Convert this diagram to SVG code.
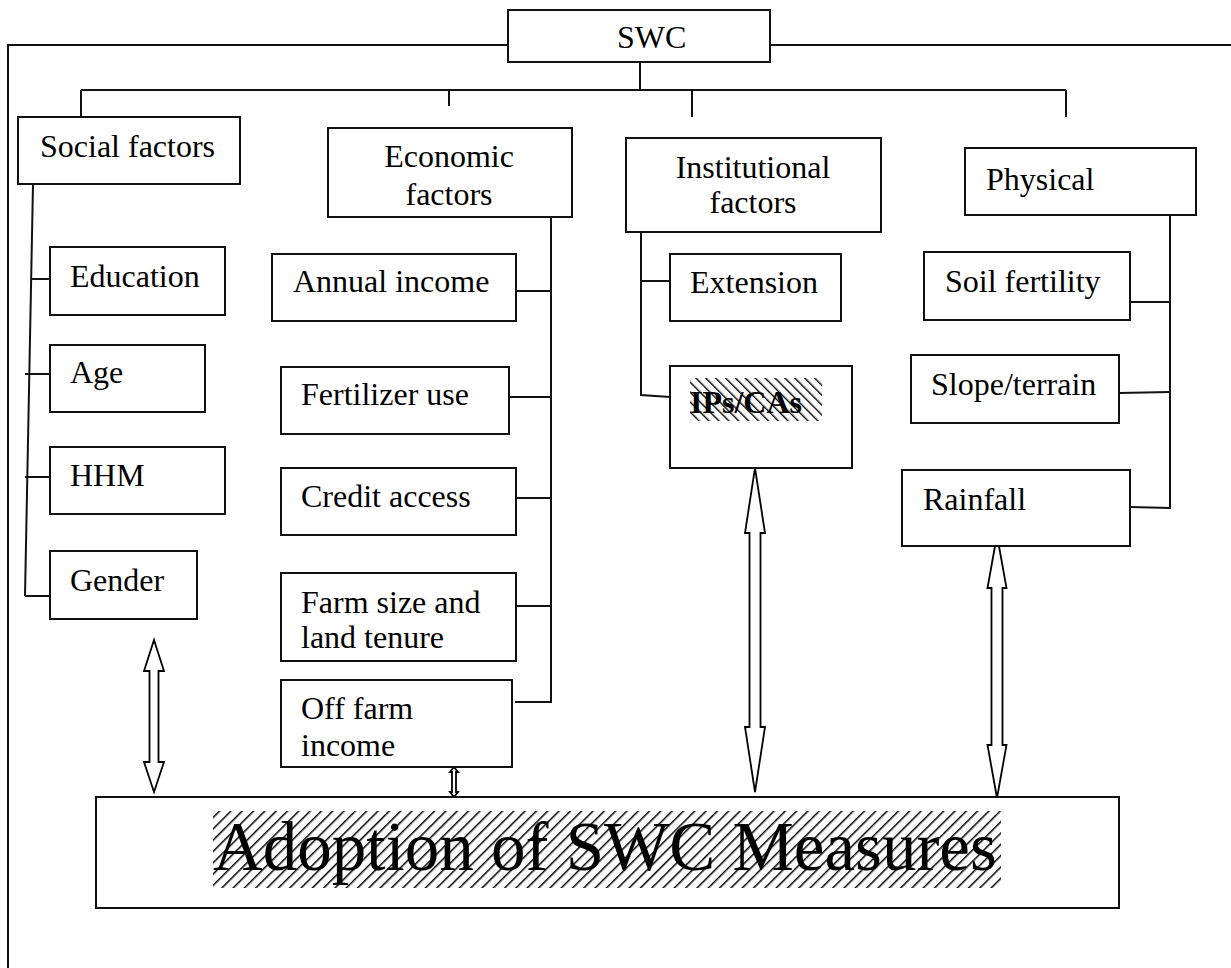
<svg xmlns="http://www.w3.org/2000/svg" width="1231" height="968" viewBox="0 0 1231 968">
<style>
.box{fill:#fff;stroke:#111;stroke-width:2}
.ln{fill:none;stroke:#111;stroke-width:2}
.t{font-family:"Liberation Serif","Times New Roman",serif;font-size:32px;fill:#000}
.big{font-family:"Liberation Serif","Times New Roman",serif;font-size:69px;fill:#000}
.arr{fill:#fff;stroke:#000;stroke-width:1.8;stroke-linejoin:miter}
</style>
<defs>
<pattern id="hatchF" width="8" height="8" patternUnits="userSpaceOnUse" patternTransform="rotate(45)">
<line x1="0" y1="0" x2="0" y2="8" stroke="#000" stroke-width="3"/>
</pattern>
<pattern id="hatchB" width="7" height="7" patternUnits="userSpaceOnUse" patternTransform="rotate(-45)">
<line x1="0" y1="0" x2="0" y2="7" stroke="#000" stroke-width="2.8"/>
</pattern>
</defs>
<rect width="1231" height="968" fill="#fff"/>
<g id="connectors">
<polyline class="ln" points="508,45 8,45 8,968"/>
<line class="ln" x1="770" y1="45" x2="1231" y2="45"/>
<line class="ln" x1="640" y1="62" x2="640" y2="90"/>
<line class="ln" x1="81" y1="90" x2="1066" y2="90"/>
<line class="ln" x1="81" y1="90" x2="81" y2="117"/>
<line class="ln" x1="449" y1="90" x2="449" y2="106"/>
<line class="ln" x1="692" y1="90" x2="692" y2="117"/>
<line class="ln" x1="1066" y1="90" x2="1066" y2="117"/>
<line class="ln" x1="33" y1="184" x2="25" y2="596"/>
<line class="ln" x1="32" y1="279" x2="50" y2="279"/>
<line class="ln" x1="25" y1="374" x2="50" y2="374"/>
<line class="ln" x1="25" y1="477" x2="50" y2="477"/>
<line class="ln" x1="25" y1="596" x2="50" y2="596"/>
<polyline class="ln" points="551,217 551,702 515,702"/>
<line class="ln" x1="516" y1="291" x2="551" y2="291"/>
<line class="ln" x1="509" y1="397" x2="552" y2="397"/>
<line class="ln" x1="516" y1="498" x2="551" y2="498"/>
<line class="ln" x1="516" y1="606" x2="551" y2="606"/>
<polyline class="ln" points="641,233 641,395 670,397"/>
<line class="ln" x1="641" y1="281" x2="670" y2="281"/>
<polyline class="ln" points="1170,215 1170,508 1130,507"/>
<line class="ln" x1="1130" y1="302" x2="1170" y2="302"/>
<line class="ln" x1="1119" y1="393" x2="1170" y2="392"/>
<polygon class="arr" points="154,640 164,671 158.5,671 158.5,762 164,762 154,792 144,762 149.5,762 149.5,671 144,671"/>
<polygon class="arr" points="454,767 458,772 456,772 456,792 458,792 454,797 450,792 452,792 452,772 450,772"/>
<polygon class="arr" points="755,468 765,533 760.5,533 760.5,727 765,727 755,792 745,727 749.5,727 749.5,533 745,533"/>
<polygon class="arr" points="997,535 1006.5,588 1002.5,588 1002.5,745 1006.5,745 997,798 987.5,745 991.5,745 991.5,588 987.5,588"/>
</g>
<g id="swc"><rect class="box" x="508" y="10" width="262" height="52"/><text class="t" x="617" y="48">SWC</text></g>
<g id="social"><rect class="box" x="18" y="117" width="222" height="67"/><text class="t" x="40" y="157">Social factors</text></g>
<g id="economic"><rect class="box" x="328" y="128" width="244" height="89"/><text class="t" x="449" y="167" text-anchor="middle">Economic</text><text class="t" x="449" y="205" text-anchor="middle">factors</text></g>
<g id="institutional"><rect class="box" x="626" y="138" width="255" height="94"/><text class="t" x="753" y="178" text-anchor="middle">Institutional</text><text class="t" x="753" y="213" text-anchor="middle">factors</text></g>
<g id="physical"><rect class="box" x="965" y="148" width="231" height="67"/><text class="t" x="986" y="190">Physical</text></g>
<g id="education"><rect class="box" x="50" y="247" width="175" height="68"/><text class="t" x="70" y="287">Education</text></g>
<g id="age"><rect class="box" x="50" y="345" width="155" height="67"/><text class="t" x="70" y="383">Age</text></g>
<g id="hhm"><rect class="box" x="50" y="447" width="175" height="67"/><text class="t" x="70" y="486">HHM</text></g>
<g id="gender"><rect class="box" x="50" y="551" width="147" height="68"/><text class="t" x="70" y="591">Gender</text></g>
<g id="annual"><rect class="box" x="272" y="254" width="244" height="67"/><text class="t" x="293" y="292">Annual income</text></g>
<g id="fertilizer"><rect class="box" x="281" y="367" width="228" height="67"/><text class="t" x="301" y="405">Fertilizer use</text></g>
<g id="credit"><rect class="box" x="281" y="468" width="235" height="67"/><text class="t" x="301" y="507">Credit access</text></g>
<g id="farmsize"><rect class="box" x="281" y="573" width="235" height="88"/><text class="t" x="301" y="613">Farm size and</text><text class="t" x="301" y="648">land tenure</text></g>
<g id="offfarm"><rect class="box" x="281" y="680" width="231" height="87"/><text class="t" x="301" y="719">Off farm</text><text class="t" x="301" y="756">income</text></g>
<g id="extension"><rect class="box" x="670" y="254" width="171" height="67"/><text class="t" x="690" y="293">Extension</text></g>
<g id="ips"><rect class="box" x="670" y="366" width="182" height="102"/><rect x="690" y="378" width="132" height="43" fill="url(#hatchB)"/><text class="t" x="690" y="413" font-weight="bold">IPs/CAs</text></g>
<g id="soil"><rect class="box" x="924" y="252" width="206" height="68"/><text class="t" x="945" y="292">Soil fertility</text></g>
<g id="slope"><rect class="box" x="911" y="355" width="208" height="68"/><text class="t" x="931" y="395">Slope/terrain</text></g>
<g id="rainfall"><rect class="box" x="902" y="470" width="228" height="76"/><text class="t" x="923" y="510">Rainfall</text></g>
<g id="adoption"><rect class="box" x="96" y="797" width="1023" height="111"/><rect x="213" y="811" width="788" height="77" fill="url(#hatchF)"/><text class="big" x="213" y="870">Adoption of SWC Measures</text></g>
</svg>
